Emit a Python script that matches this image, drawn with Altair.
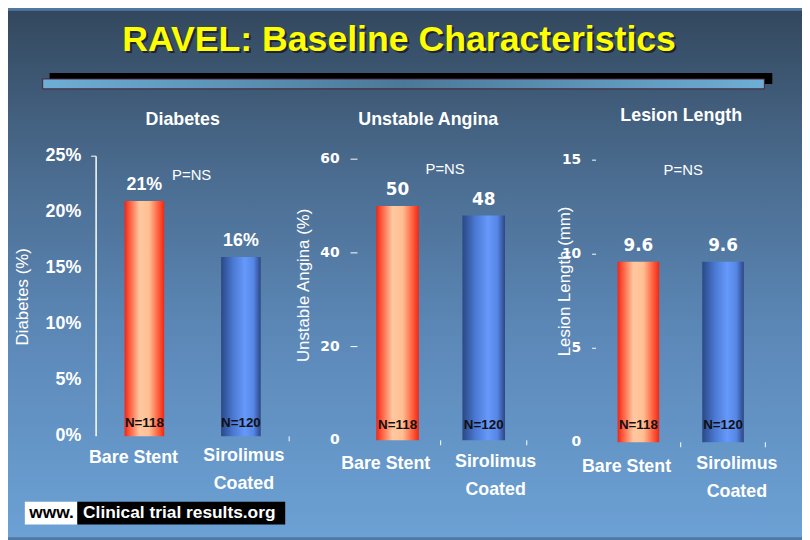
import altair as alt
import pandas as pd

# ---------------- data ----------------
categories = ["Bare Stent", "Sirolimus Coated"]
diabetes_pct = [21, 16]
angina_pct = [50, 48]
lesion_mm = [9.6, 9.6]
diabetes_labels = ["21%", "16%"]
angina_labels = ["50", "48"]
lesion_labels = ["9.6", "9.6"]
n_labels = ["N=118", "N=120"]
diabetes_ticks = [0, 5, 10, 15, 20, 25]
diabetes_tick_labels = ["0%", "5%", "10%", "15%", "20%", "25%"]
angina_ticks = [0, 20, 40, 60]
angina_tick_labels = ["0", "20", "40", "60"]
lesion_ticks = [0, 5, 10, 15]
lesion_tick_labels = ["0", "5", "10", "15"]
panel_titles = ["Diabetes", "Unstable Angina", "Lesion Length"]
axis_titles = ["Diabetes (%)", "Unstable Angina (%)", "Lesion Length (mm)"]
p_label = "P=NS"
chart_title = "RAVEL: Baseline Characteristics"
site_a = "www."
site_b = "Clinical trial results.org"

W, H = 802, 532
SANS = "Liberation Sans"
WIDE = "DejaVu Sans"


def lin(stops, vertical=False):
    return {
        "gradient": "linear",
        "x1": 0, "y1": 0,
        "x2": 0 if vertical else 1, "y2": 1 if vertical else 0,
        "stops": [{"offset": o, "color": c} for o, c in stops],
    }


BG = lin([(0, "#33485e"), (0.3, "#4a6b8e"), (0.6, "#5b87b6"), (1, "#6ca1d5")], vertical=True)
RED = lin([(0, "#ee2618"), (0.12, "#ff5a3c"), (0.38, "#ffc8a0"), (0.62, "#ffbf92"),
           (0.88, "#ff5434"), (1, "#ec2818")])
BLUE = lin([(0, "#2a4884"), (0.3, "#4a78d2"), (0.6, "#6699fb"), (0.82, "#5686e6"),
            (1, "#2c4682")])
RULE = lin([(0, "#6eaed6"), (0.5, "#4b7898"), (1, "#6eaed6")])

one = pd.DataFrame({"k": [0]})


def deco_rect(x, x2, y, y2, color, stroke=None):
    kw = {"color": color}
    if stroke:
        kw.update(stroke=stroke, strokeWidth=1)
    return alt.Chart(one).mark_rect(**kw).encode(
        x=alt.value(x), x2=alt.value(x2), y=alt.value(y), y2=alt.value(y2))


def deco_text(txt, x, y, size, color="white", weight="bold", font=SANS, align="center",
              angle=0):
    return alt.Chart(pd.DataFrame({"t": [txt]})).mark_text(
        font=font, fontSize=size, fontWeight=weight, color=color,
        align=align, baseline="middle", angle=angle).encode(
        x=alt.value(x), y=alt.value(y), text="t:N")


def panel(c):
    df = pd.DataFrame({"cat": categories, "value": c["values"], "label": c["labels"],
                       "n": n_labels, "base": [0, 0]})
    tdf = pd.DataFrame({"v": c["ticks"], "lab": c["tick_labels"]})
    base = alt.Chart(df)
    tbase = alt.Chart(tdf)
    xs = alt.Scale(domain=categories, range=c["xr"], paddingInner=0, paddingOuter=0)
    ys = alt.Scale(domain=[0, c["ymax"]], range=c["yr"], nice=False, zero=True)
    xn = alt.X("cat:N", axis=None, sort=categories)
    yn = alt.Y("value:Q", axis=None)

    red = base.mark_bar(size=c["bar"], color=RED).encode(
        x=alt.X("cat:N", scale=xs, axis=None, sort=categories),
        y=alt.Y("value:Q", scale=ys, axis=None),
    ).transform_filter(alt.datum.cat == categories[0])
    blue = base.mark_bar(size=c["bar"], color=BLUE).encode(x=xn, y=yn).transform_filter(
        alt.datum.cat == categories[1])
    vals = base.mark_text(font=c["val_font"], fontSize=c["val_size"], fontWeight="bold",
                          color="white", baseline="middle", dy=-16).encode(
        x=xn, y=yn, text="label:N")
    ns = base.mark_text(font=SANS, fontSize=13.5, fontWeight="bold", color="#111111",
                        baseline="middle", dy=c["n_dy"]).encode(
        x=xn, y=alt.Y("base:Q", axis=None), text="n:N")

    # y axis drawn through the panel's y scale
    ylab = tbase.mark_text(align="right", baseline="middle", font=c["tick_font"],
                           fontSize=c["tick_size"], fontWeight="bold", color="white").encode(
        x=alt.value(c["lab_x"]), y=alt.Y("v:Q", axis=None), text="lab:N")
    ytick = tbase.mark_rule(color="white", strokeWidth=1).encode(
        x=alt.value(c["tick_x"][0]), x2=alt.value(c["tick_x"][1]),
        y=alt.Y("v:Q", axis=None)).transform_filter(c["tick_filter"])
    parts = [red, blue, vals, ns, ylab, ytick]
    if c.get("domain_x") is not None:
        dom = tbase.mark_rule(color="white", strokeWidth=1.5).encode(
            x=alt.value(c["domain_x"]), y=alt.Y("min(v):Q", axis=None), y2="max(v)")
        parts.append(dom)

    # x axis: category labels and band-end ticks through the panel's x scale
    xl1 = base.mark_text(font=SANS, fontSize=18, fontWeight="bold", color="white",
                         baseline="top", dx=c["dx"][0]).encode(
        x=xn, y=alt.value(c["xl_y"][0]), text="cat:N").transform_filter(
        alt.datum.cat == categories[0])
    xl2 = base.mark_text(font=SANS, fontSize=18, fontWeight="bold", color="white",
                         baseline="top", dx=c["dx"][1], lineBreak=" ", lineHeight=28).encode(
        x=xn, y=alt.value(c["xl_y"][1]), text="cat:N").transform_filter(
        alt.datum.cat == categories[1])
    xt = base.mark_rule(color="white", strokeWidth=1).encode(
        x=alt.X("cat:N", axis=None, sort=categories, bandPosition=1),
        y=alt.value(c["xt_y"]), y2=alt.value(c["xt_y"] + 5))
    if c.get("xt_filter") is not None:
        xt = xt.transform_filter(c["xt_filter"])
    parts += [xl1, xl2, xt]
    return alt.layer(*parts)


p1 = panel(dict(values=diabetes_pct, labels=diabetes_labels, ticks=diabetes_ticks,
                tick_labels=diabetes_tick_labels, xr=[89, 284], yr=[430, 147], ymax=25,
                bar=40, val_font=SANS, val_size=18, n_dy=-13,
                tick_font=SANS, tick_size=18, lab_x=74, tick_x=(84, 89),
                tick_filter=alt.datum.v == 25, domain_x=89,
                dx=(-11, 3), xl_y=(443, 441), xt_y=430,
                xt_filter=alt.datum.cat == categories[1]))
p2 = panel(dict(values=angina_pct, labels=angina_labels, ticks=angina_ticks,
                tick_labels=angina_tick_labels, xr=[350, 524], yr=[434, 150], ymax=60,
                bar=43, val_font=WIDE, val_size=17, n_dy=-15,
                tick_font=WIDE, tick_size=14, lab_x=335, tick_x=(346, 353),
                tick_filter=alt.datum.v > 0,
                dx=(-12, 12), xl_y=(449, 447), xt_y=434))
p3 = panel(dict(values=lesion_mm, labels=lesion_labels, ticks=lesion_ticks,
                tick_labels=lesion_tick_labels, xr=[594, 765], yr=[436, 151], ymax=15,
                bar=42, val_font=WIDE, val_size=17, n_dy=-17,
                tick_font=WIDE, tick_size=14, lab_x=579, tick_x=(590, 594),
                tick_filter=alt.datum.v > 0,
                dx=(-12, 14), xl_y=(452, 449), xt_y=436))

layers = [
    deco_rect(0, W, 0, H, BG),
    deco_rect(42, 772, 63, 74, "#000000"),
    deco_rect(35, 764, 69, 79, RULE, stroke="#4a2030"),
    deco_text(chart_title, 397, 32, 36, color="#1b2533"),
    deco_text(chart_title, 395, 30, 36, color="#ffff00"),
    deco_text(panel_titles[0], 176.5, 110, 18),
    deco_text(panel_titles[1], 424.5, 110, 18),
    deco_text(panel_titles[2], 680, 106, 18),
    deco_text(p_label, 185.5, 166, 15, weight="normal"),
    deco_text(p_label, 441.5, 160, 15, weight="normal"),
    deco_text(p_label, 682, 161, 15, weight="normal"),
    deco_text(axis_titles[0], 15.5, 289, 17, weight="normal", angle=270),
    deco_text(axis_titles[1], 299.5, 277.5, 17, weight="normal", angle=270),
    deco_text(axis_titles[2], 562.5, 273.5, 17, weight="normal", angle=270),
    deco_rect(17, 70, 496, 519, "#ffffff"),
    deco_rect(70, 280, 496, 519, "#000000"),
    deco_text(site_a, 44, 507, 17.5, color="#000000"),
    deco_text(site_b, 173, 507, 17.5, color="#ffffff"),
    p1, p2, p3,
]

chart = alt.layer(*layers).resolve_scale(x="independent", y="independent").properties(
    width=W, height=H, padding=0, autosize=alt.AutoSizeParams(type="none"),
    background="#4f78a3",
).configure_view(strokeWidth=0).configure_axis(grid=False)

chart.save("out.html", embed_options={"renderer": "svg", "actions": False})
